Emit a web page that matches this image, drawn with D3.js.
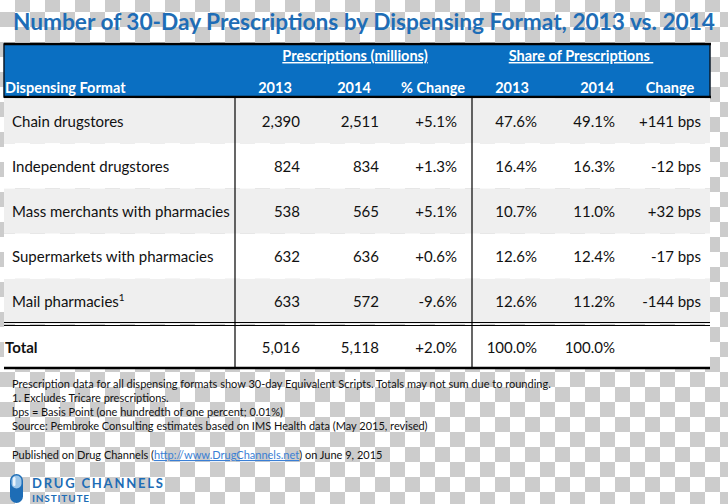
<!DOCTYPE html>
<html><head><meta charset="utf-8">
<script src="https://cdn.jsdelivr.net/npm/d3@7"></script>
<style>body{margin:0;background:#fff}svg{display:block}</style>
</head><body>
<script>
// ---- data ----
const title = "Number of 30-Day Prescriptions by Dispensing Format, 2013 vs. 2014";
const formats = ["Chain drugstores","Independent drugstores","Mass merchants with pharmacies","Supermarkets with pharmacies","Mail pharmacies"];
const rx2013 = [2390, 824, 538, 632, 633];
const rx2014 = [2511, 834, 565, 636, 572];
const pctChange = [5.1, 1.3, 5.1, 0.6, -9.6];
const share2013 = [47.6, 16.4, 10.7, 12.6, 12.6];
const share2014 = [49.1, 16.3, 11.0, 12.4, 11.2];
const bpsChange = [141, -12, 32, -17, -144];
const totalRx2013 = 5016, totalRx2014 = 5118, totalPct = 2.0, totalShare2013 = 100.0, totalShare2014 = 100.0;
const groupHeaders = ["Prescriptions (millions)", "Share of Prescriptions "];
const colHeaders = ["2013","2014","% Change","2013","2014","Change"];
const footnotes = [
  "Prescription data for all dispensing formats show 30-day Equivalent Scripts. Totals may not sum due to rounding.",
  "1. Excludes Tricare prescriptions.",
  "bps = Basis Point (one hundredth of one percent; 0.01%)",
  "Source: Pembroke Consulting estimates based on IMS Health data (May 2015, revised)"
];

const W = 728, H = 504;
const svg = d3.select("body").append("svg").attr("width", W).attr("height", H);
const font = "Lato, 'Open Sans', sans-serif";
const blue = "#0A6FC2";
const loc = d3.formatLocale({decimal: ".", thousands: ",", grouping: [3], currency: ["$", ""], minus: "-"});
const fInt = loc.format(","), fPct = loc.format("+.1f"), fDec = loc.format(".1f"), fBps = loc.format("+d");

// checkerboard background
const defs = svg.append("defs");
const pat = defs.append("pattern").attr("id","chk").attr("patternUnits","userSpaceOnUse")
  .attr("width",30).attr("height",30).attr("x",0).attr("y",12);
pat.append("rect").attr("width",30).attr("height",30).attr("fill","#fff");
pat.append("rect").attr("width",15).attr("height",15).attr("fill","#cccccc");
pat.append("rect").attr("x",15).attr("y",15).attr("width",15).attr("height",15).attr("fill","#cccccc");
svg.append("rect").attr("width",W).attr("height",H).attr("fill","url(#chk)");

// title
svg.append("text").attr("x",364).attr("y",30).attr("text-anchor","middle")
  .attr("font-family",font).attr("font-weight",700).attr("font-size",23)
  .attr("fill","#1E6DB6").attr("textLength",702).attr("lengthAdjust","spacingAndGlyphs")
  .text(title);

// table geometry
const x0 = 4, x1 = 710;
const headTop = 44, headBot = 97;
const y = d3.scaleBand().domain(formats).range([headBot, 323]);
const totalTop = 326, totalBot = 368;

// header band
svg.append("rect").attr("x",x0).attr("y",headTop).attr("width",x1-x0).attr("height",headBot-headTop)
  .attr("fill",blue).attr("stroke","#0b1a2a").attr("stroke-width",1.5);
svg.append("line").attr("x1",x0).attr("x2",x1+1).attr("y1",headTop).attr("y2",headTop).attr("stroke","#000").attr("stroke-width",2.5);
svg.append("line").attr("x1",x0).attr("x2",x1+1).attr("y1",headBot).attr("y2",headBot).attr("stroke","#000").attr("stroke-width",2.5);

// rows
const rows = formats.map((f,i)=>({f, i, v:[
  fInt(rx2013[i]), fInt(rx2014[i]),
  fPct(pctChange[i])+"%",
  fDec(share2013[i])+"%", fDec(share2014[i])+"%",
  fBps(bpsChange[i])+" bps"
]}));
svg.selectAll("rect.row").data(rows).join("rect").attr("class","row")
  .attr("x",x0).attr("width",x1-x0).attr("y",d=>y(d.f)+1.2).attr("height",y.bandwidth()-0.2)
  .attr("fill",d=>d.i%2===0?"#EFEFEF":"#FFFFFF");
svg.append("rect").attr("x",x0).attr("width",x1-x0).attr("y",totalTop).attr("height",totalBot-totalTop).attr("fill","#fff");

// columns (right edges of values, centers of headers)
const colRight = [300, 379, 457, 537, 615, 701];
const colCenter = [275, 354, 433, 512, 597, 670];

const bodyFont = 15;
rows.forEach(d=>{
  const cy = y(d.f) + y.bandwidth()/2 + 7;
  const t = svg.append("text").attr("x",12).attr("y",cy).attr("font-family",font).attr("font-size",bodyFont).attr("fill","#111");
  t.append("tspan").text(d.f);
  if (d.f === "Mail pharmacies") t.append("tspan").attr("font-size",10).attr("dy",-6).text("1");
  svg.selectAll(null).data(d.v).join("text")
    .attr("x",(v,j)=>colRight[j]).attr("y",cy).attr("text-anchor","end")
    .attr("font-family",font).attr("font-size",bodyFont).attr("fill","#111").text(v=>v);
});

// total row
const tv = [fInt(totalRx2013), fInt(totalRx2014), fPct(totalPct)+"%",
  fDec(totalShare2013)+"%", fDec(totalShare2014)+"%"];
const ty = (totalTop+totalBot)/2 + 6;
svg.append("text").attr("x",5).attr("y",ty).attr("font-family",font).attr("font-size",bodyFont)
  .attr("font-weight",700).attr("fill","#111").text("Total");
svg.selectAll(null).data(tv).join("text").attr("x",(v,j)=>colRight[j]).attr("y",ty).attr("text-anchor","end")
  .attr("font-family",font).attr("font-size",bodyFont).attr("fill","#111").text(v=>v);

// lines
[235, 472].forEach(xx=>svg.append("line").attr("x1",xx).attr("x2",xx).attr("y1",headBot).attr("y2",totalBot).attr("stroke","#000").attr("stroke-width",1.2));
svg.append("line").attr("x1",x0).attr("x2",x1).attr("y1",322.5).attr("y2",322.5).attr("stroke","#000").attr("stroke-width",1.2);
svg.append("line").attr("x1",x0).attr("x2",x1).attr("y1",325.5).attr("y2",325.5).attr("stroke","#000").attr("stroke-width",1.2);
svg.append("line").attr("x1",x0).attr("x2",x1).attr("y1",368).attr("y2",368).attr("stroke","#000").attr("stroke-width",2.5);

// header texts
const gh = [355, 581];
groupHeaders.forEach((g,i)=>{
  svg.append("text").attr("x",gh[i]).attr("y",61).attr("text-anchor","middle")
    .attr("font-family",font).attr("font-size",14.5).attr("font-weight",700).attr("fill","#fff")
    .attr("text-decoration","underline").style("white-space","pre").text(g);
});
svg.append("text").attr("x",5).attr("y",93).attr("font-family",font).attr("font-size",14.5)
  .attr("font-weight",700).attr("fill","#fff").text("Dispensing Format");
svg.selectAll(null).data(colHeaders).join("text").attr("x",(v,j)=>colCenter[j]).attr("y",93)
  .attr("text-anchor","middle").attr("font-family",font).attr("font-size",14.5).attr("font-weight",700)
  .attr("fill","#fff").text(v=>v);

// footnotes
svg.selectAll(null).data(footnotes).join("text").attr("x",12).attr("y",(d,i)=>388+i*14)
  .attr("font-family",font).attr("font-size",11).attr("fill","#111").text(d=>d);

const pub = svg.append("text").attr("x",12).attr("y",459).attr("font-family",font).attr("font-size",11).attr("fill","#111");
pub.append("tspan").text("Published on Drug Channels (");
pub.append("tspan").attr("fill","#3A7FD5").attr("text-decoration","underline").text("http://www.DrugChannels.net");
pub.append("tspan").text(") on June 9, 2015");

// logo
const lg = svg.append("g");
lg.append("rect").attr("x",10).attr("y",474).attr("width",13).attr("height",29).attr("rx",6.5).attr("fill","#1E6DB6");
lg.append("rect").attr("x",11.5).attr("y",475.5).attr("width",10).attr("height",13).attr("rx",5).attr("fill","#9cc6ea");
lg.append("rect").attr("x",13).attr("y",477).attr("width",2.5).attr("height",9).attr("rx",1.2).attr("fill","#fff").attr("opacity",0.8);
lg.append("text").attr("x",32).attr("y",488).attr("font-family",font).attr("font-weight",700).attr("font-size",13)
  .attr("fill","#1E6DB6").attr("textLength",131).attr("lengthAdjust","spacing").text("DRUG CHANNELS");
lg.append("text").attr("x",32).attr("y",502).attr("font-family",font).attr("font-weight",700).attr("font-size",10)
  .attr("fill","#1E6DB6").attr("textLength",57).attr("lengthAdjust","spacing").text("INSTITUTE");
</script>
</body></html>
